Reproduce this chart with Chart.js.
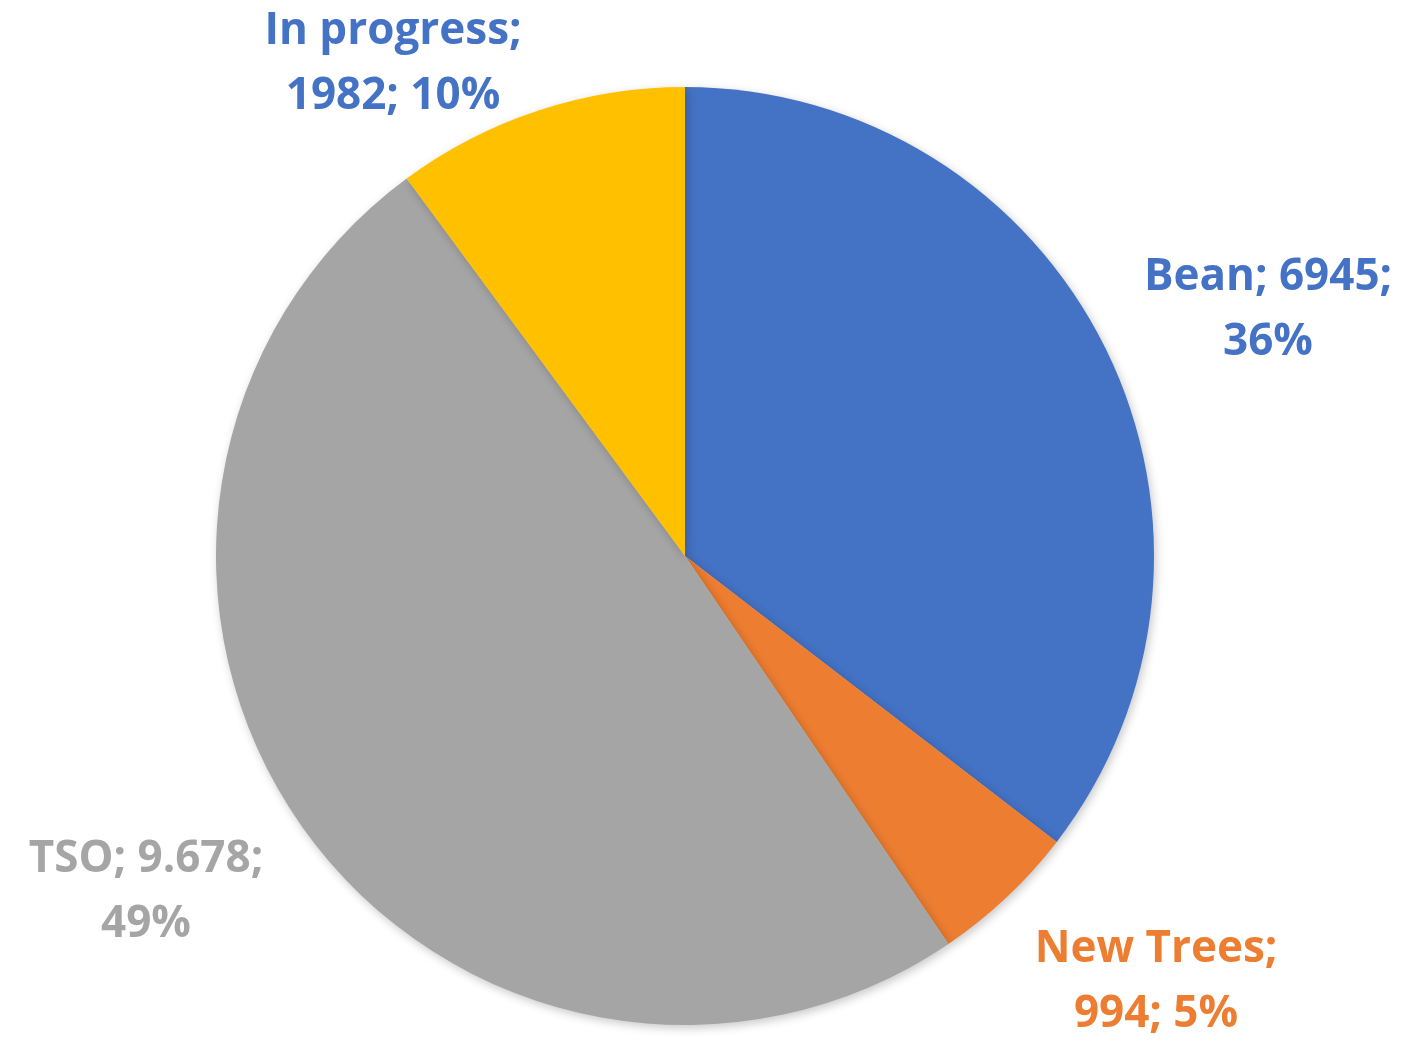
<!DOCTYPE html>
<html>
<head>
<meta charset="utf-8">
<script src="https://cdn.jsdelivr.net/npm/chart.js@4/dist/chart.umd.min.js"></script>
<style>
    html, body { margin: 0; padding: 0; background: #fff; }
    #wrap { width: 1407px; height: 1041px; }
</style>
</head>
<body>
<div id="wrap"><canvas id="pieChart" width="1407" height="1041"></canvas></div>
<script>
const categories = ['Bean', 'New Trees', 'TSO', 'In progress'];
const values = [6945, 994, 9678, 1982];
const valueLabels = ['6945', '994', '9.678', '1982'];
const percentLabels = ['36%', '5%', '49%', '10%'];
const sliceColors = ['#4472C4', '#ED7D31', '#A5A5A5', '#FFC000'];
const labelColors = ['#4472C4', '#ED7D31', '#A5A5A5', '#4472C4'];

// where Excel put each data label (two lines, centred)
const labelSpots = [
    { x: 1268, y: 277, lines: i => [categories[i] + '; ' + valueLabels[i] + ';', percentLabels[i]] },
    { x: 1156, y: 949, lines: i => [categories[i] + ';', valueLabels[i] + '; ' + percentLabels[i]] },
    { x: 146, y: 859, lines: i => [categories[i] + '; ' + valueLabels[i] + ';', percentLabels[i]] },
    { x: 393, y: 31, lines: i => [categories[i] + ';', valueLabels[i] + '; ' + percentLabels[i]] }
];

const shadowPlugin = {
    id: 'pieShadow',
    beforeDatasetsDraw(chart) {
        const ctx = chart.ctx;
        ctx.save();
        ctx.shadowColor = 'rgba(0,0,0,0.22)';
        ctx.shadowBlur = 10;
        ctx.shadowOffsetX = 2;
        ctx.shadowOffsetY = 3;
    },
    afterDatasetsDraw(chart) {
        chart.ctx.restore();
    }
};

const labelPlugin = {
    id: 'sliceLabels',
    afterDraw(chart) {
        const ctx = chart.ctx;
        ctx.save();
        ctx.font = 'bold 44px "Open Sans", sans-serif';
        ctx.textAlign = 'center';
        ctx.textBaseline = 'middle';
        labelSpots.forEach((spot, i) => {
            ctx.fillStyle = labelColors[i];
            spot.lines(i).forEach((line, j) => {
                ctx.fillText(line, spot.x, spot.y + j * 65);
            });
        });
        ctx.restore();
    }
};

document.addEventListener('DOMContentLoaded', function () {
    const ctx = document.getElementById('pieChart').getContext('2d');
    new Chart(ctx, {
        type: 'pie',
        data: {
            labels: categories,
            datasets: [{
                data: values,
                backgroundColor: sliceColors,
                borderWidth: 0
            }]
        },
        options: {
            responsive: false,
            animation: false,
            layout: {
                padding: { left: 216, right: 253, top: 87, bottom: 16 }
            },
            plugins: {
                legend: { display: false },
                tooltip: { enabled: false }
            }
        },
        plugins: [shadowPlugin, labelPlugin]
    });
});
</script>
</body>
</html>
